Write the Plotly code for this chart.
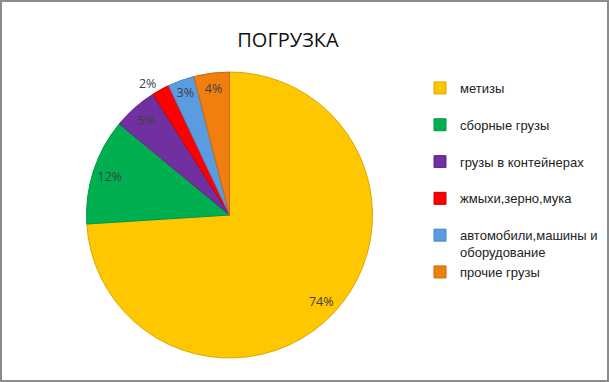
import plotly.graph_objects as go

categories = ["метизы", "сборные грузы", "грузы в контейнерах",
              "жмыхи,зерно,мука", "автомобили,машины и оборудование", "прочие грузы"]
legend_labels = ["метизы<br> ", "сборные грузы<br> ", "грузы в контейнерах<br> ",
                 "жмыхи,зерно,мука<br> ", "автомобили,машины и<br>оборудование", "прочие грузы"]
values = [74, 12, 5, 2, 3, 4]
colors = ["#FFC700", "#00B050", "#7030A0", "#FF0000", "#5B9BE0", "#F07F10"]
line_colors = ["#D9A800", "#009944", "#5E2888", "#CC0000", "#4A85C5", "#C86A0C"]
text_pos = ["inside", "inside", "inside", "outside", "inside", "inside"]

W, H = 609, 382
cx, cy, r = 229.5, 215, 143
dom = dict(x=[(cx - r) / W, (cx + r) / W], y=[1 - (cy + r) / H, 1 - (cy - r) / H])
lab_font = dict(family="Open Sans, Liberation Sans, sans-serif", size=12.5, color="#404040")

fig = go.Figure()
# slices
fig.add_trace(go.Pie(
    labels=legend_labels, values=values, sort=False, direction="clockwise", rotation=0,
    marker=dict(colors=colors, line=dict(color=line_colors, width=1)),
    textinfo="none", domain=dom, hoverinfo="skip",
))
# percentage labels placed near the rim (transparent ring)
fig.add_trace(go.Pie(
    labels=legend_labels, values=values, sort=False, direction="clockwise", rotation=0,
    hole=0.76, showlegend=False,
    marker=dict(colors=["rgba(0,0,0,0)"] * len(values), line=dict(width=0)),
    texttemplate="%{percent:.0%}", textposition=text_pos,
    insidetextorientation="horizontal",
    textfont=lab_font, insidetextfont=lab_font, outsidetextfont=lab_font,
    domain=dom, hoverinfo="skip",
))

fig.update_layout(
    width=W, height=H,
    margin=dict(l=0, r=0, t=0, b=0),
    paper_bgcolor="white",
    title=dict(text="ПОГРУЗКА", x=288 / W, xanchor="center", y=1 - 40 / H, yanchor="middle",
               font=dict(family="Open Sans, Liberation Sans, sans-serif", size=20, color="#111111")),
    legend=dict(x=420 / W, xanchor="left", y=1 - 73 / H, yanchor="top", valign="top",
                font=dict(family="Liberation Sans, Arial, sans-serif", size=13, color="#222222"),
                bgcolor="rgba(0,0,0,0)"),
    shapes=[dict(type="rect", xref="paper", yref="paper",
                 x0=1 / W, x1=1 - 1 / W, y0=1 / H, y1=1 - 1 / H,
                 line=dict(color="#8C8C8C", width=2))],
)

fig.write_html("out.html", config={"displayModeBar": False},
               post_script="document.body.style.margin='0';document.body.style.overflow='hidden';")
